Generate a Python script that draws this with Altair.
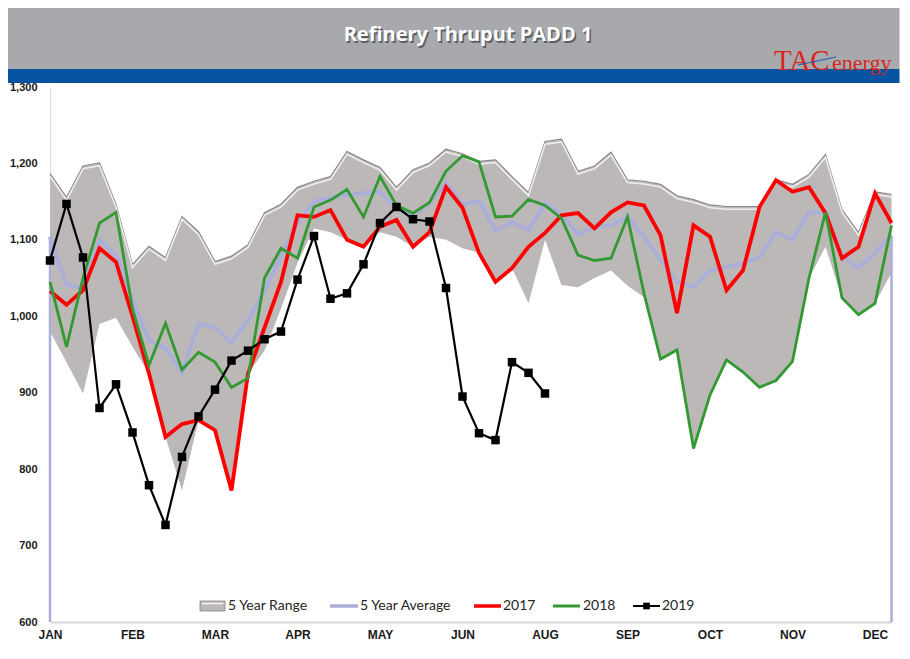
import altair as alt
import pandas as pd

# ---------------- data ----------------
weeks = list(range(52))
month_labels = ["JAN", "FEB", "MAR", "APR", "MAY", "JUN", "AUG", "SEP", "OCT", "NOV", "DEC"]
label_weeks = [0, 5, 10, 15, 20, 25, 30, 35, 40, 45, 50]
y_ticks = [600, 700, 800, 900, 1000, 1100, 1200, 1300]

range_max = [1186, 1155, 1196, 1200, 1146, 1067, 1091, 1076, 1130, 1110, 1071, 1078, 1093,
             1135, 1146, 1168, 1176, 1182, 1215, 1204, 1194, 1168, 1191, 1200, 1218, 1212,
             1202, 1204, 1182, 1161, 1228, 1231, 1189, 1196, 1214, 1178, 1176, 1172, 1157,
             1152, 1145, 1143, 1143, 1143, 1178, 1172, 1185, 1211, 1139, 1109, 1162, 1159]
range_min = [980, 940, 899, 990, 998, 960, 925, 842, 772, 864, 851, 772, 925,
             955, 1010, 1070, 1115, 1110, 1100, 1091, 1110, 1104, 1091, 1104, 1100, 1089,
             1083, 1045, 1063, 1017, 1100, 1041, 1038, 1050, 1060, 1040, 1025, 944, 956,
             827, 897, 943, 927, 907, 916, 941, 1050, 1091, 1024, 1002, 1017, 1057]
avg5 = [1104, 1041, 1037, 1100, 1080, 1020, 969, 958, 927, 990, 985, 966, 995,
        1034, 1078, 1122, 1150, 1155, 1159, 1161, 1163, 1140, 1132, 1148, 1175, 1146,
        1151, 1112, 1123, 1113, 1148, 1133, 1107, 1117, 1119, 1130, 1104, 1074, 1045,
        1038, 1060, 1064, 1069, 1077, 1110, 1100, 1136, 1135, 1080, 1063, 1083, 1106]
y2017 = [1033, 1015, 1034, 1089, 1071, 1000, 925, 842, 859, 864, 851, 772, 925,
         985, 1045, 1132, 1130, 1139, 1100, 1091, 1117, 1126, 1091, 1110, 1169, 1142,
         1083, 1045, 1063, 1091, 1109, 1132, 1135, 1115, 1136, 1149, 1145, 1106, 1004,
         1119, 1104, 1034, 1060, 1143, 1178, 1163, 1169, 1135, 1076, 1091, 1161, 1122]
y2018 = [1045, 960, 1050, 1122, 1136, 1010, 936, 991, 930, 953, 940, 907, 919,
         1050, 1089, 1076, 1143, 1152, 1166, 1130, 1183, 1145, 1135, 1149, 1190, 1210,
         1202, 1130, 1131, 1153, 1145, 1128, 1080, 1073, 1076, 1130, 1030, 944, 956,
         827, 897, 943, 927, 907, 916, 941, 1050, 1136, 1024, 1002, 1017, 1119]
y2019 = [1073, 1147, 1077, 880, 911, 848, 779, 727, 816, 869, 904, 942, 955,
         970, 980, 1048, 1105, 1023, 1030, 1068, 1122, 1143, 1127, 1124, 1037, 895,
         847, 838, 940, 926, 899]

df = pd.DataFrame({"week": weeks, "rmin": range_min, "rmax": range_max,
                   "avg": avg5, "y2017": y2017, "y2018": y2018})
df19 = pd.DataFrame({"week": weeks[:len(y2019)], "y2019": y2019})
df_edges = df[df["week"].isin([weeks[0], weeks[-1]])]

# ---------------- layout ----------------
W = 841.5
H = 535
PAD_L, PAD_T, PAD_R, PAD_B = 42, 79, 8, 26

GRAY_FILL = "#bcb8b8"
LAV = "#aaaed9"
RED = "#ff0000"
GREEN = "#339933"

label_map = "{" + ",".join(f"'{w}':'{m}'" for w, m in zip(label_weeks, month_labels)) + "}"

xs = alt.Scale(domain=[weeks[0], weeks[-1]], nice=False, zero=False)
ys = alt.Scale(domain=[600, 1300], nice=False, zero=False)

x_axis = alt.Axis(values=label_weeks, labelExpr=f"{label_map}[datum.value]", grid=False,
                  ticks=False, domainColor="#d6d6d6", domainWidth=2, labelFont="Liberation Sans",
                  labelFontWeight="bold", labelFontSize=12, labelColor="#1a1a1a",
                  labelPadding=7, title=None, labelFlush=False)
y_axis = alt.Axis(values=y_ticks, format=",.0f", grid=False, ticks=False, domainColor="#dcdce4",
                  domainWidth=1, labelFont="Liberation Sans", labelFontWeight="bold",
                  labelFontSize=11, labelColor="#1a1a1a", labelPadding=13, title=None,
                  labelLimit=60)

base = alt.Chart(df)
X = alt.X("week:Q", scale=xs, axis=x_axis)

band = base.mark_area(color=GRAY_FILL, opacity=1).encode(
    x=X, y=alt.Y("rmin:Q", scale=ys, axis=y_axis), y2="rmax:Q")
band_edge_dark = base.mark_line(color="#8a8686", strokeWidth=1.2, yOffset=-0.5).encode(
    x=alt.X("week:Q", scale=xs), y=alt.Y("rmax:Q", scale=ys))
band_edge_light = base.mark_line(color="#f4f4f4", strokeWidth=1.6, yOffset=2.2, opacity=0.9).encode(
    x=alt.X("week:Q", scale=xs), y=alt.Y("rmax:Q", scale=ys))

avg_line = base.mark_line(color=LAV, strokeWidth=4).encode(
    x=alt.X("week:Q", scale=xs), y=alt.Y("avg:Q", scale=ys))
avg_edges = alt.Chart(df_edges).mark_rule(color=LAV, strokeWidth=2.5).encode(
    x=alt.X("week:Q", scale=xs), y=alt.Y("avg:Q", scale=ys), y2=alt.datum(600))

l2017 = base.mark_line(color=RED, strokeWidth=3.8, strokeJoin="miter").encode(
    x=alt.X("week:Q", scale=xs), y=alt.Y("y2017:Q", scale=ys))
l2018 = base.mark_line(color=GREEN, strokeWidth=2.8).encode(
    x=alt.X("week:Q", scale=xs), y=alt.Y("y2018:Q", scale=ys))
l2019 = alt.Chart(df19).mark_line(color="#000000", strokeWidth=2.2).encode(
    x=alt.X("week:Q", scale=xs), y=alt.Y("y2019:Q", scale=ys))
p2019 = alt.Chart(df19).mark_square(color="#000000", size=72, opacity=1).encode(
    x=alt.X("week:Q", scale=xs), y=alt.Y("y2019:Q", scale=ys))

# ---------------- header ----------------
one = alt.Chart(pd.DataFrame({"k": [0]}))
hdr_gray = one.mark_rect(color="#a7a9ac").encode(
    x=alt.value(-PAD_L), x2=alt.value(W + PAD_R), y=alt.value(-PAD_T), y2=alt.value(-18))
hdr_blue = one.mark_rect(color="#0553a1").encode(
    x=alt.value(-PAD_L), x2=alt.value(W + PAD_R), y=alt.value(-18), y2=alt.value(-4))
title_shadow = one.mark_text(text="Refinery Thruput PADD 1", font="Open Sans", fontWeight="bold",
                             fontSize=20, color="#5e5f61", align="center", baseline="middle").encode(
    x=alt.value(419.5), y=alt.value(-50.5))
title = one.mark_text(text="Refinery Thruput PADD 1", font="Open Sans", fontWeight="bold",
                      fontSize=20, color="#ffffff", align="center", baseline="middle").encode(
    x=alt.value(418), y=alt.value(-52))
logo_tac = one.mark_text(text="TAC", font="Liberation Serif", fontSize=29, color="#d7261e",
                         align="left", baseline="alphabetic").encode(
    x=alt.value(724), y=alt.value(-17))
logo_swoosh = one.mark_rule(color="#1f5fb0", strokeWidth=1.2).encode(
    x=alt.value(748), x2=alt.value(786), y=alt.value(-22), y2=alt.value(-30))
logo_energy = one.mark_text(text="energy", font="Liberation Serif", fontSize=22, color="#d7261e",
                            align="left", baseline="alphabetic").encode(
    x=alt.value(782), y=alt.value(-17))

# ---------------- legend ----------------
LY = 519
LF = dict(font="Lato", fontSize=14, color="#262626", align="left", baseline="middle")
leg = [
    one.mark_rect(color=GRAY_FILL, stroke="#8a8686", strokeWidth=0.8).encode(
        x=alt.value(150), x2=alt.value(175), y=alt.value(LY - 5), y2=alt.value(LY + 5)),
    one.mark_rule(color="#f4f4f4", strokeWidth=1.5).encode(
        x=alt.value(152), x2=alt.value(173), y=alt.value(LY - 2.5)),
    one.mark_text(text="5 Year Range", **LF).encode(x=alt.value(178), y=alt.value(LY)),
    one.mark_rule(color=LAV, strokeWidth=3.5).encode(
        x=alt.value(280), x2=alt.value(308), y=alt.value(LY)),
    one.mark_text(text="5 Year Average", **LF).encode(x=alt.value(310), y=alt.value(LY)),
    one.mark_rule(color=RED, strokeWidth=3.5).encode(
        x=alt.value(424), x2=alt.value(451), y=alt.value(LY)),
    one.mark_text(text="2017", **LF).encode(x=alt.value(453), y=alt.value(LY)),
    one.mark_rule(color=GREEN, strokeWidth=3).encode(
        x=alt.value(503), x2=alt.value(530), y=alt.value(LY)),
    one.mark_text(text="2018", **LF).encode(x=alt.value(533), y=alt.value(LY)),
    one.mark_rule(color="#000000", strokeWidth=2).encode(
        x=alt.value(583), x2=alt.value(610), y=alt.value(LY)),
    one.mark_square(color="#000000", size=45, opacity=1).encode(
        x=alt.value(596.5), y=alt.value(LY)),
    one.mark_text(text="2019", **LF).encode(x=alt.value(612), y=alt.value(LY)),
]

chart = alt.layer(
    band, band_edge_dark, band_edge_light, avg_line, avg_edges, l2017, l2018, l2019, p2019,
    hdr_gray, hdr_blue, title_shadow, title, logo_tac, logo_swoosh, logo_energy, *leg
).properties(
    width=W, height=H,
    autosize=alt.AutoSizeParams(type="none"),
    padding={"left": PAD_L, "top": PAD_T, "right": PAD_R, "bottom": PAD_B},
).configure(background="#ffffff", view=alt.ViewConfig(stroke=None))

chart.save("out.html", embed_options={"renderer": "svg", "actions": False})
